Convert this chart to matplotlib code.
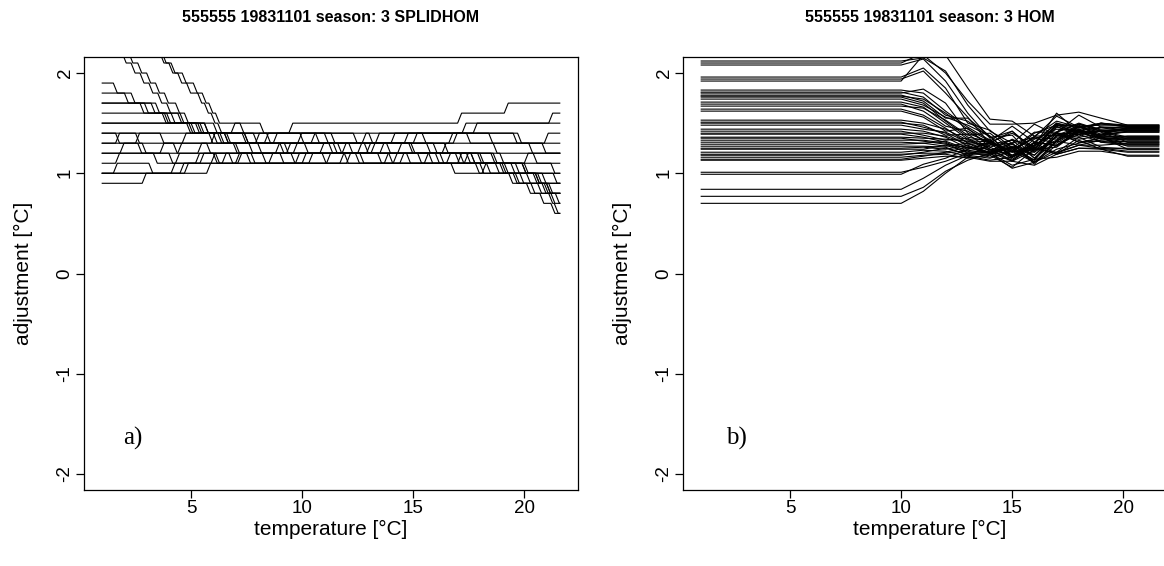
import matplotlib.pyplot as plt
import numpy as np

plt.rcParams['font.family'] = ['Liberation Sans', 'DejaVu Sans']

# ---- panel a) SPLIDHOM: step lines, level at T=1.0 then (temperature, new level)
spl_start = [2.3, 2.5, 2.8, 2.7, 1.9, 1.8, 1.7, 1.7, 1.6, 1.5, 1.5,
             1.4, 1.4, 1.3, 1.3, 1.2, 1.2, 1.1, 1.0, 1.0, 0.9, 1.0]
spl_steps = [
    [(1.5, 2.2), (1.9, 2.1), (2.3, 2.0), (2.7, 1.9), (3.1, 1.8), (3.5, 1.7), (3.9, 1.6), (4.4, 1.5),
     (5.2, 1.4), (6.6, 1.3), (9.2, 1.2), (12.5, 1.3), (14.8, 1.2), (17.4, 1.1), (19.4, 1.0), (20.4, 0.9), (21.0, 0.8)],
    [(1.0, 2.4), (1.4, 2.3), (1.8, 2.2), (2.2, 2.1), (2.6, 2.0), (3.0, 1.9), (3.4, 1.8), (3.8, 1.7), (4.3, 1.6),
     (4.7, 1.5), (5.6, 1.4), (7.4, 1.3), (10.4, 1.4), (13.0, 1.3), (15.6, 1.2), (18.0, 1.1), (19.9, 1.0),
     (20.8, 0.9), (21.1, 0.8), (21.4, 0.7)],
    [(1.2, 2.7), (1.7, 2.6), (2.2, 2.5), (2.7, 2.4), (3.0, 2.3), (3.3, 2.2), (3.7, 2.1), (4.0, 2.0), (4.4, 1.9),
     (4.8, 1.8), (5.3, 1.7), (5.6, 1.6), (5.9, 1.5), (6.2, 1.4), (8.4, 1.3), (11.2, 1.2), (14.3, 1.3), (16.4, 1.2),
     (18.6, 1.1), (20.0, 1.0), (20.5, 0.9), (20.8, 0.8), (21.1, 0.7), (21.35, 0.6)],
    [(1.4, 2.6), (1.9, 2.5), (2.4, 2.4), (2.8, 2.3), (3.2, 2.2), (3.6, 2.1), (4.1, 2.0), (4.6, 1.9), (5.1, 1.8),
     (5.5, 1.7), (5.8, 1.6), (6.1, 1.5), (7.2, 1.4), (9.9, 1.3), (12.8, 1.2), (16.0, 1.1), (18.3, 1.0), (19.6, 0.9),
     (20.6, 0.8), (21.2, 0.7)],
    [(1.5, 1.8), (2.3, 1.7), (3.2, 1.6), (4.1, 1.5), (5.3, 1.4), (6.5, 1.3), (8.0, 1.2), (10.8, 1.3), (13.8, 1.2),
     (16.9, 1.1), (18.9, 1.0), (20.1, 0.9), (21.0, 0.8)],
    [(2.0, 1.7), (2.9, 1.6), (3.8, 1.5), (4.9, 1.4), (6.0, 1.3), (7.6, 1.2), (9.6, 1.3), (12.1, 1.2), (15.2, 1.1),
     (17.8, 1.0), (19.3, 0.9), (20.3, 0.8)],
    [(2.7, 1.6), (3.7, 1.5), (4.8, 1.4), (5.8, 1.3), (7.0, 1.2), (8.8, 1.3), (11.6, 1.2), (13.5, 1.3), (15.9, 1.2),
     (17.6, 1.1), (19.0, 1.0), (20.5, 0.9)],
    [(3.4, 1.6), (4.5, 1.5), (5.6, 1.4), (7.8, 1.3), (10.1, 1.2), (12.9, 1.3), (16.6, 1.4), (18.4, 1.3), (20.2, 1.2)],
    [(3.9, 1.5), (5.4, 1.4), (6.8, 1.5), (8.1, 1.4), (9.4, 1.5), (17.0, 1.6), (19.1, 1.7)],
    [(5.0, 1.4), (6.3, 1.3), (8.3, 1.4), (11.0, 1.3), (13.3, 1.4), (17.2, 1.5), (21.1, 1.6)],
    [(6.0, 1.4), (7.4, 1.3), (9.0, 1.2), (11.8, 1.3), (14.6, 1.4), (17.7, 1.5)],
    [(1.6, 1.3), (2.5, 1.4), (6.5, 1.3), (9.8, 1.4), (12.3, 1.3), (15.0, 1.4), (19.5, 1.3), (20.8, 1.2)],
    [(3.6, 1.3), (4.6, 1.4), (6.2, 1.3), (7.9, 1.4), (10.6, 1.3), (14.0, 1.4), (17.4, 1.3), (20.9, 1.4)],
    [(1.6, 1.4), (2.5, 1.3), (4.2, 1.2), (5.3, 1.3), (6.9, 1.2), (9.3, 1.3), (11.4, 1.2), (13.1, 1.3), (14.9, 1.2),
     (16.3, 1.3), (18.6, 1.2), (20.4, 1.1), (21.2, 1.0)],
    [(2.8, 1.2), (3.6, 1.3), (5.9, 1.4), (7.3, 1.3), (8.7, 1.4), (11.3, 1.3), (12.7, 1.4), (15.4, 1.3), (16.8, 1.4),
     (19.7, 1.3)],
    [(1.8, 1.3), (2.6, 1.2), (4.4, 1.3), (5.7, 1.2), (7.5, 1.1), (10.0, 1.2), (12.4, 1.1), (14.4, 1.2), (16.2, 1.1),
     (18.0, 1.0), (19.8, 0.9), (20.9, 0.8)],
    [(3.3, 1.1), (4.3, 1.2), (6.1, 1.1), (8.5, 1.2), (10.9, 1.1), (13.7, 1.2), (15.7, 1.1), (17.3, 1.2), (18.9, 1.1)],
    [(1.6, 1.2), (4.0, 1.1), (5.4, 1.2), (6.7, 1.1), (9.7, 1.2), (11.9, 1.1), (14.1, 1.2), (17.1, 1.1), (19.1, 1.0),
     (21.3, 0.9)],
    [(1.5, 1.1), (3.1, 1.0), (4.7, 1.1), (6.4, 1.2), (8.2, 1.1), (12.0, 1.2), (13.9, 1.1), (16.7, 1.0), (18.1, 1.1),
     (20.0, 1.2)],
    [(4.5, 1.1), (5.9, 1.2), (7.7, 1.1), (10.3, 1.2), (12.6, 1.1), (15.5, 1.2), (17.9, 1.1), (19.6, 1.0)],
    [(2.8, 1.0), (4.1, 1.1), (5.2, 1.2), (6.0, 1.1), (7.1, 1.2), (9.0, 1.1), (11.1, 1.2), (13.4, 1.1), (16.5, 1.2),
     (17.6, 1.1), (18.7, 1.0), (19.5, 0.9), (20.1, 0.8), (20.7, 0.7), (21.2, 0.6)],
    [(5.7, 1.1), (7.0, 1.2), (9.5, 1.1), (11.7, 1.2), (14.7, 1.1), (17.0, 1.2), (18.5, 1.1), (19.9, 1.0), (20.6, 0.9)],
]
spl_tmin, spl_tmax = 1.0, 21.6

# ---- panel b) HOM: flat below 10 C, curves between, flat above 20.2 C
hom_knots = [1.0, 10.0, 11, 12, 13, 14, 15, 16, 17, 18, 19, 20.2, 21.6]
hom_left = [2.12, 2.10, 2.08, 1.96, 1.94, 1.92, 1.83, 1.81, 1.80, 1.78, 1.77, 1.76, 1.74, 1.71, 1.69,
            1.67, 1.64, 1.62, 1.53, 1.51, 1.50, 1.48, 1.44, 1.42, 1.40, 1.39, 1.36, 1.35, 1.33, 1.31,
            1.29, 1.27, 1.25, 1.24, 1.21, 1.19, 1.18, 1.16, 1.14, 1.13, 1.01, 0.99, 0.84, 0.77, 0.70]
hom_t11 = [2.15, 2.20, 2.14, 2.05, 2.02, 2.18, 1.80, 1.76, 1.84, 1.72, 1.74, 1.70, 1.68, 1.66, 1.62,
           1.65, 1.58, 1.56, 1.50, 1.46, 1.48, 1.44, 1.42, 1.38, 1.40, 1.36, 1.35, 1.32, 1.33, 1.30,
           1.30, 1.27, 1.26, 1.24, 1.23, 1.20, 1.21, 1.18, 1.17, 1.15, 1.06, 1.09, 0.95, 0.86, 0.82]
hom_t12 = [2.02, 2.18, 1.92, 1.85, 1.80, 2.00, 1.62, 1.58, 1.70, 1.55, 1.60, 1.52, 1.56, 1.50, 1.47,
           1.53, 1.45, 1.42, 1.44, 1.40, 1.38, 1.41, 1.36, 1.33, 1.37, 1.31, 1.34, 1.29, 1.30, 1.27,
           1.32, 1.26, 1.24, 1.28, 1.22, 1.20, 1.25, 1.19, 1.21, 1.17, 1.12, 1.15, 1.08, 1.02, 1.00]
hom_t13 = [1.68, 1.85, 1.60, 1.50, 1.56, 1.72, 1.46, 1.52, 1.40, 1.55, 1.44, 1.36, 1.48, 1.34, 1.42,
           1.38, 1.30, 1.45, 1.33, 1.27, 1.39, 1.31, 1.25, 1.35, 1.29, 1.22, 1.32, 1.26, 1.20, 1.30,
           1.24, 1.18, 1.28, 1.21, 1.17, 1.23, 1.19, 1.15, 1.26, 1.16, 1.20, 1.24, 1.18, 1.13, 1.16]
hom_t14 = [1.42, 1.54, 1.35, 1.43, 1.29, 1.49, 1.33, 1.36, 1.31, 1.37, 1.32, 1.32, 1.37, 1.22, 1.29,
           1.40, 1.23, 1.26, 1.34, 1.21, 1.24, 1.32, 1.21, 1.24, 1.30, 1.16, 1.26, 1.24, 1.19, 1.20,
           1.31, 1.15, 1.20, 1.22, 1.13, 1.20, 1.19, 1.18, 1.20, 1.12, 1.21, 1.30, 1.28, 1.20, 1.30]
hom_t15 = [1.30, 1.52, 1.42, 1.25, 1.33, 1.49, 1.16, 1.38, 1.40, 1.16, 1.47, 1.21, 1.17, 1.26, 1.23,
           1.23, 1.30, 1.16, 1.16, 1.27, 1.18, 1.18, 1.30, 1.13, 1.14, 1.22, 1.33, 1.12, 1.22, 1.25,
           1.22, 1.22, 1.05, 1.34, 1.16, 1.08, 1.26, 1.06, 1.29, 1.12, 1.12, 1.42, 1.30, 1.26, 1.21]
hom_t16 = [1.36, 1.37, 1.21, 1.41, 1.15, 1.50, 1.28, 1.15, 1.26, 1.31, 1.31, 1.24, 1.28, 1.13, 1.35,
           1.36, 1.09, 1.26, 1.34, 1.18, 1.30, 1.30, 1.11, 1.26, 1.28, 1.11, 1.27, 1.31, 1.21, 1.11,
           1.40, 1.23, 1.11, 1.24, 1.31, 1.14, 1.13, 1.24, 1.18, 1.08, 1.23, 1.24, 1.49, 1.24, 1.37]
hom_t17 = [1.34, 1.52, 1.46, 1.41, 1.38, 1.58, 1.60, 1.32, 1.49, 1.28, 1.50, 1.21, 1.41, 1.41, 1.30,
           1.57, 1.32, 1.19, 1.44, 1.37, 1.20, 1.50, 1.32, 1.19, 1.40, 1.28, 1.47, 1.27, 1.36, 1.24,
           1.48, 1.33, 1.21, 1.48, 1.28, 1.16, 1.38, 1.26, 1.40, 1.19, 1.32, 1.48, 1.38, 1.41, 1.38]
hom_t18 = [1.47, 1.46, 1.41, 1.58, 1.34, 1.61, 1.41, 1.46, 1.39, 1.43, 1.42, 1.36, 1.50, 1.31, 1.44,
           1.46, 1.43, 1.25, 1.42, 1.44, 1.28, 1.45, 1.47, 1.25, 1.39, 1.39, 1.37, 1.43, 1.39, 1.30,
           1.48, 1.49, 1.28, 1.41, 1.41, 1.22, 1.36, 1.42, 1.31, 1.33, 1.28, 1.47, 1.46, 1.49, 1.41]
hom_t19 = [1.42, 1.50, 1.35, 1.46, 1.37, 1.55, 1.35, 1.39, 1.42, 1.38, 1.50, 1.26, 1.43, 1.35, 1.35,
           1.49, 1.37, 1.24, 1.46, 1.36, 1.25, 1.50, 1.37, 1.25, 1.42, 1.31, 1.46, 1.31, 1.42, 1.35,
           1.36, 1.44, 1.28, 1.42, 1.34, 1.22, 1.39, 1.38, 1.32, 1.24, 1.33, 1.48, 1.41, 1.42, 1.42]
hom_right = [1.41, 1.47, 1.31, 1.43, 1.36, 1.48, 1.27, 1.45, 1.34, 1.42, 1.46, 1.24, 1.44, 1.35, 1.29,
             1.47, 1.42, 1.21, 1.45, 1.33, 1.25, 1.48, 1.37, 1.22, 1.43, 1.32, 1.46, 1.28, 1.44, 1.35,
             1.24, 1.47, 1.30, 1.43, 1.37, 1.18, 1.41, 1.46, 1.29, 1.17, 1.34, 1.48, 1.31, 1.45, 1.36]

titles = ['555555 19831101 season: 3 SPLIDHOM', '555555 19831101 season: 3 HOM']
panel_tags = ['a)', 'b)']
tag_x = [2.4, 2.6]
xticks = [5, 10, 15, 20]
yticks = [-2, -1, 0, 1, 2]


def stair(start, steps, w=0.18):
    xs, ys = [spl_tmin], [start]
    level = start
    for t, new in steps:
        xs += [t, t + w]
        ys += [level, new]
        level = new
    xs.append(spl_tmax)
    ys.append(level)
    return xs, ys


W, H = 1164, 566
fig = plt.figure(figsize=(W / 100, H / 100), dpi=100)
fig.patch.set_facecolor('white')

boxes = [(84, 57, 578, 490), (683, 57, 1177, 490)]
axes = []
for (x0, y0, x1, y1) in boxes:
    ax = fig.add_axes([x0 / W, 1 - y1 / H, (x1 - x0) / W, (y1 - y0) / H])
    axes.append(ax)

# panel a
for start, steps in zip(spl_start, spl_steps):
    xs, ys = stair(start, steps)
    axes[0].plot(xs, ys, color='black', lw=0.8)

# panel b
hom_cols = [hom_left, hom_left, hom_t11, hom_t12, hom_t13, hom_t14, hom_t15,
            hom_t16, hom_t17, hom_t18, hom_t19, hom_right, hom_right]
hom_arr = np.array(hom_cols).T
for row in hom_arr:
    axes[1].plot(hom_knots, row, color='black', lw=0.8)

for i, ax in enumerate(axes):
    x0, y0, x1, y1 = boxes[i]
    ax.set_xlim(0.18, 22.42)
    ax.set_ylim(-2.16, 2.16)
    ax.set_xticks(xticks)
    ax.set_yticks(yticks)
    ax.set_xticklabels([str(t) for t in xticks], fontsize=13.5)
    ax.set_yticklabels([str(t) for t in yticks], fontsize=13.5, rotation=90, va='center')
    ax.tick_params(direction='out', length=6, width=0.9, pad=1.5)
    for s in ax.spines.values():
        s.set_linewidth(0.9)
    cx = (x0 + x1) / 2
    fig.text(cx / W, 1 - 18 / H, titles[i], fontsize=11.5, fontweight='bold',
             ha='center', va='center')
    fig.text(cx / W, 1 - 529 / H, 'temperature [°C]', fontsize=15,
             ha='center', va='center')
    fig.text((x0 - 61) / W, 1 - 273 / H, 'adjustment [°C]', fontsize=15,
             rotation=90, ha='center', va='center')
    ax.text(tag_x[i], -1.65, panel_tags[i], fontsize=18,
            family=['Liberation Serif', 'DejaVu Serif'], va='center', ha='center')

fig.savefig('out.png', dpi=100)
